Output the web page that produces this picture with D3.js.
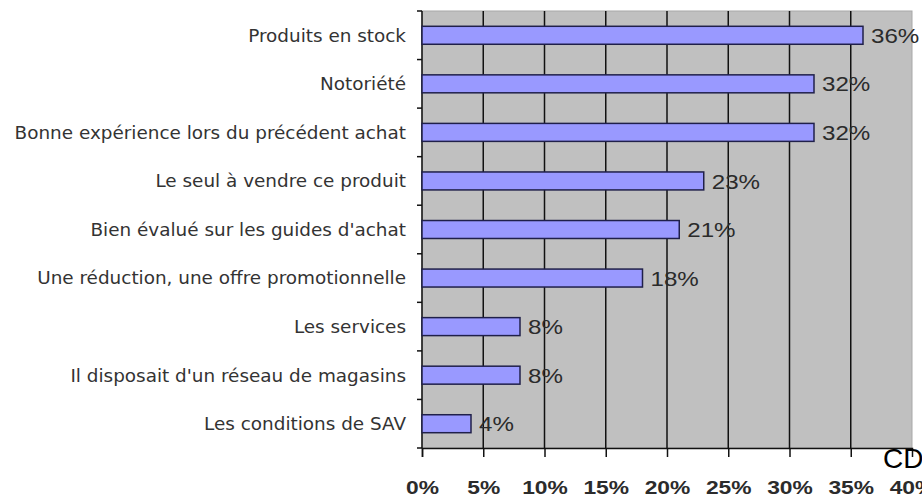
<!DOCTYPE html>
<html>
<head>
<meta charset="utf-8">
<script src="https://cdn.jsdelivr.net/npm/d3@7"></script>
<style>
  body { margin: 0; background: #fff; }
  svg { display: block; }
</style>
</head>
<body>
<div id="chart"></div>
<script>
// data
var categories = [
  "Produits en stock",
  "Notoriété",
  "Bonne expérience lors du précédent achat",
  "Le seul à vendre ce produit",
  "Bien évalué sur les guides d'achat",
  "Une réduction, une offre promotionnelle",
  "Les services",
  "Il disposait d'un réseau de magasins",
  "Les conditions de SAV"
];
var values = [36, 32, 32, 23, 21, 18, 8, 8, 4];
var xTicks = [0, 5, 10, 15, 20, 25, 30, 35, 40];
var cornerText = "CD";

var width = 922, height = 499;
var margin = { top: 11, right: 10, bottom: 51, left: 422 };
var plotW = width - margin.left - margin.right;
var plotH = height - margin.top - margin.bottom;

var svg = d3.select("#chart").append("svg")
  .attr("width", width)
  .attr("height", height);

var x = d3.scaleLinear().domain([0, 40]).range([0, plotW]);
var y = d3.scaleBand().domain(categories).range([0, plotH])
  .paddingInner(0.63).paddingOuter(0.315);

var g = svg.append("g").attr("transform", "translate(" + margin.left + "," + margin.top + ")");

// grey plot area
g.append("rect")
  .attr("x", 0).attr("y", 0)
  .attr("width", plotW).attr("height", plotH)
  .attr("fill", "#c0c0c0")
  .attr("stroke", "#a8a8a8")
  .attr("stroke-width", 1);

// vertical gridlines
g.selectAll("line.grid")
  .data(xTicks.filter(function (d) { return d > 0 && d < 40; }))
  .enter().append("line")
  .attr("class", "grid")
  .attr("x1", function (d) { return x(d); })
  .attr("x2", function (d) { return x(d); })
  .attr("y1", 0).attr("y2", plotH)
  .attr("stroke", "#111").attr("stroke-width", 1.5);

// x axis
var xAxis = d3.axisBottom(x)
  .tickValues(xTicks)
  .tickFormat(function (d) { return d + "%"; })
  .tickSize(9)
  .tickPadding(24);
var xg = g.append("g").attr("transform", "translate(0," + plotH + ")").call(xAxis);
xg.select(".domain").attr("stroke", "#111").attr("stroke-width", 1.5);
xg.selectAll(".tick line").attr("stroke", "#111").attr("stroke-width", 1.5);
xg.selectAll(".tick").filter(function (d) { return d === 40; }).select("line").remove();
xg.selectAll(".tick text")
  .attr("fill", "#2b2b2b")
  .style("font-family", "'Liberation Sans', Arial, sans-serif")
  .style("font-weight", "bold")
  .style("font-size", "19px")
  .attr("transform", "scale(1.2,1)");

// y axis line and small ticks at band boundaries
var step = y.step();
g.append("line")
  .attr("x1", 0).attr("x2", 0).attr("y1", 0).attr("y2", plotH)
  .attr("stroke", "#111").attr("stroke-width", 1.5);
var bounds = categories.map(function (c) { return y(c) + y.bandwidth() / 2 - step / 2; });
bounds.push(plotH);
g.selectAll("line.ytick")
  .data(bounds)
  .enter().append("line")
  .attr("class", "ytick")
  .attr("x1", -5).attr("x2", 0)
  .attr("y1", function (d) { return d; })
  .attr("y2", function (d) { return d; })
  .attr("stroke", "#111").attr("stroke-width", 1.5);

// category labels
g.selectAll("text.cat")
  .data(categories)
  .enter().append("text")
  .attr("class", "cat")
  .attr("x", -16)
  .attr("y", function (d) { return y(d) + y.bandwidth() / 2; })
  .attr("dy", "0.35em")
  .attr("text-anchor", "end")
  .attr("fill", "#333")
  .style("font-family", "'DejaVu Sans', Verdana, sans-serif")
  .style("font-size", "18.4px")
  .text(function (d) { return d; });

// bars
g.selectAll("rect.bar")
  .data(values)
  .enter().append("rect")
  .attr("class", "bar")
  .attr("x", 0)
  .attr("y", function (d, i) { return y(categories[i]); })
  .attr("width", function (d) { return x(d); })
  .attr("height", y.bandwidth())
  .attr("fill", "#9999ff")
  .attr("stroke", "#20204a")
  .attr("stroke-width", 1.5);

// value labels
g.selectAll("g.val")
  .data(values)
  .enter().append("g")
  .attr("class", "val")
  .attr("transform", function (d, i) {
    return "translate(" + (x(d) + 8) + "," + (y(categories[i]) + y.bandwidth() / 2) + ")";
  })
  .append("text")
  .attr("dy", "0.36em")
  .attr("transform", "scale(1.15,1)")
  .attr("fill", "#2b2b2b")
  .style("font-family", "'Liberation Sans', Arial, sans-serif")
  .style("font-size", "21px")
  .text(function (d) { return d + "%"; });

// cut-off text in the lower right corner
svg.append("text")
  .attr("x", 883).attr("y", 468)
  .attr("fill", "#000")
  .style("font-family", "'Liberation Sans', Arial, sans-serif")
  .style("font-size", "28px")
  .text(cornerText);
</script>
</body>
</html>
